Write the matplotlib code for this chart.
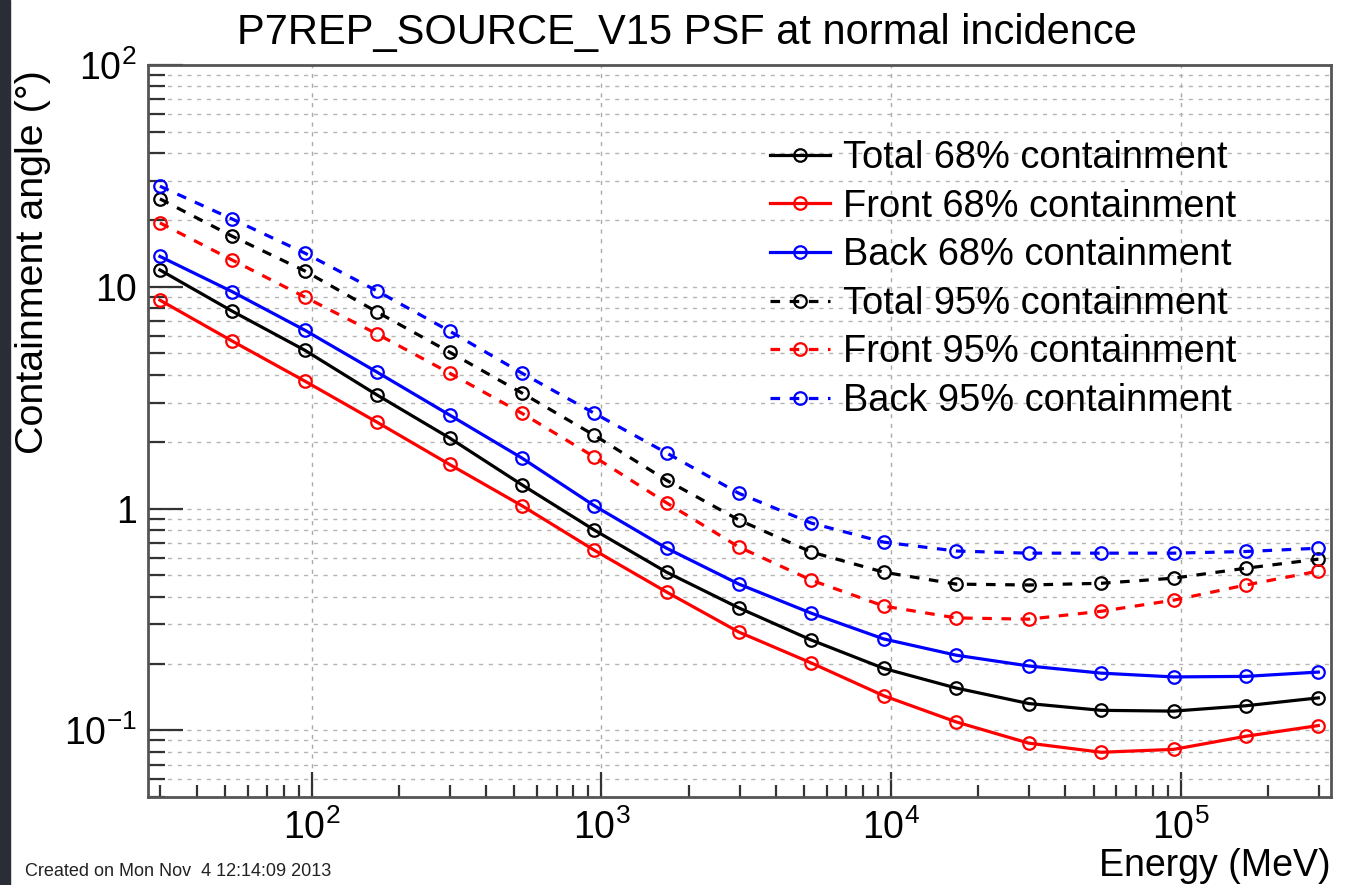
import numpy as np
import matplotlib
matplotlib.use("Agg")
import matplotlib.pyplot as plt
from matplotlib.patches import Rectangle
from matplotlib.ticker import LogLocator, NullFormatter, FixedLocator

plt.rcParams['font.family'] = ['Liberation Sans', 'DejaVu Sans']
plt.rcParams['mathtext.default'] = 'regular'

# energy bin centres (MeV)
energy = [29.9, 53.1, 94.4, 168, 299, 531, 944, 1679, 2985, 5309,
          9441, 16790, 29850, 53090, 94410, 167900, 298500]

# containment angles (deg)
total_68 = [11.9, 7.76, 5.18, 3.25, 2.08, 1.28, 0.80, 0.516, 0.356, 0.255,
            0.19, 0.155, 0.132, 0.123, 0.122, 0.129, 0.140]
front_68 = [8.7, 5.69, 3.76, 2.45, 1.58, 1.03, 0.649, 0.42, 0.277, 0.201,
            0.143, 0.109, 0.0875, 0.0796, 0.082, 0.094, 0.105]
back_68 = [13.7, 9.5, 6.38, 4.12, 2.64, 1.69, 1.03, 0.662, 0.456, 0.337,
           0.258, 0.218, 0.195, 0.181, 0.174, 0.175, 0.183]
total_95 = [24.9, 16.9, 11.8, 7.69, 5.07, 3.32, 2.14, 1.34, 0.887, 0.636,
            0.516, 0.456, 0.452, 0.46, 0.485, 0.538, 0.591]
front_95 = [19.4, 13.2, 9.0, 6.12, 4.08, 2.69, 1.71, 1.06, 0.67, 0.475,
            0.363, 0.321, 0.317, 0.344, 0.386, 0.452, 0.522]
back_95 = [28.4, 20.2, 14.2, 9.57, 6.31, 4.08, 2.69, 1.78, 1.17, 0.859,
           0.705, 0.643, 0.629, 0.629, 0.629, 0.64, 0.662]

series = [
    (total_68, 'Total 68% containment', 'black', '-'),
    (front_68, 'Front 68% containment', '#ff0000', '-'),
    (back_68, 'Back 68% containment', '#0000ff', '-'),
    (total_95, 'Total 95% containment', 'black', (0, (3, 3))),
    (front_95, 'Front 95% containment', '#ff0000', (0, (3, 3))),
    (back_95, 'Back 95% containment', '#0000ff', (0, (3, 3))),
]

fig = plt.figure(figsize=(13.53, 8.85), dpi=100)
fig.patches.append(Rectangle((0, 0), 10 / 1353, 1, transform=fig.transFigure,
                             color='#2b2d36', zorder=0))
ax = fig.add_axes([0.1094, 0.0994, 0.8743, 0.8272])

for vals, label, color, ls in series:
    ax.plot(energy, vals, color=color, linestyle=ls, lw=2.3, marker='o',
            markersize=9, markerfacecolor='none', markeredgewidth=1.6,
            label=label)

ax.set_xscale('log')
ax.set_yscale('log')
ax.set_xlim(27.2, 330000)
ax.set_ylim(0.05, 100)

# ticks
ax.xaxis.set_major_locator(FixedLocator([1e2, 1e3, 1e4, 1e5]))
ax.set_xticklabels([r'$10^{2}$', r'$10^{3}$', r'$10^{4}$', r'$10^{5}$'])
ax.xaxis.set_minor_locator(LogLocator(base=10, subs=np.arange(2, 10)))
ax.xaxis.set_minor_formatter(NullFormatter())
ax.yaxis.set_major_locator(FixedLocator([0.1, 1, 10, 100]))
ax.set_yticklabels([r'$10^{-1}$', '1', '10', r'$10^{2}$'])
ax.yaxis.set_minor_locator(LogLocator(base=10, subs=np.arange(2, 10)))
ax.yaxis.set_minor_formatter(NullFormatter())

ax.tick_params(axis='both', which='both', direction='in', color='#333333',
               width=1.6, labelsize=27, top=False, right=False)
ax.tick_params(axis='y', which='major', length=25, pad=8)
ax.tick_params(axis='y', which='minor', length=12)
ax.tick_params(axis='x', which='major', length=18, pad=9)
ax.tick_params(axis='x', which='minor', length=8.5)

ax.grid(True, axis='x', which='major', color='#aaaaaa', ls=(0, (3, 4)), lw=1)
ax.grid(True, axis='y', which='both', color='#b5b5b5', ls=(0, (3, 4)), lw=1)

for s in ax.spines.values():
    s.set_color('#555555')
    s.set_linewidth(2)

fig.text(687 / 1353, 1 - 33 / 885, 'P7REP_SOURCE_V15 PSF at normal incidence',
         fontsize=30, ha='center', va='center')
ax.set_ylabel('Containment angle (°)', fontsize=28.4)
ax.yaxis.set_label_coords(-0.082, 0.731)
ax.set_xlabel('Energy (MeV)', fontsize=27, ha='right')
ax.xaxis.set_label_coords(1.0, -0.069)

fig.text(25 / 1353, 1 - 872 / 885, 'Created on Mon Nov  4 12:14:09 2013',
         fontsize=13, va='center', color='#222222')

ax.legend(loc='upper left', bbox_to_anchor=(0.513, 0.918), frameon=False,
          fontsize=27.4, handlelength=1.58, handletextpad=0.34, labelspacing=0.33,
          borderaxespad=0)

fig.savefig('out.png', dpi=100)
